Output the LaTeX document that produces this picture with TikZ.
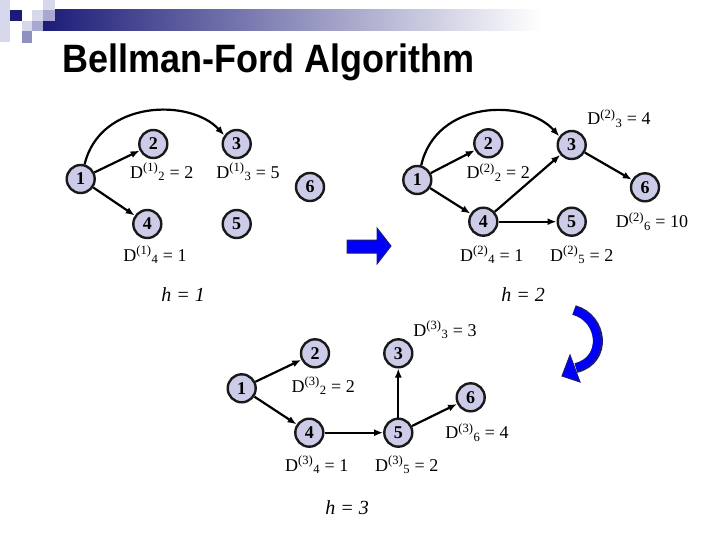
\documentclass[tikz,border=0pt]{standalone}
\usepackage{fontspec}
\setmainfont{Liberation Serif}
\newfontfamily\titlefont{Liberation Sans}
\usetikzlibrary{arrows.meta}
\definecolor{nodefill}{RGB}{204,204,232}
\definecolor{navy}{RGB}{28,28,120}
\definecolor{arrowblue}{RGB}{0,0,250}
\definecolor{sqlight}{RGB}{216,216,236}
\definecolor{sqmid}{RGB}{168,168,208}
\definecolor{sqdark}{RGB}{144,144,192}
\newcommand{\Dl}[3]{D\textsuperscript{(#1)}\textsubscript{#2} = #3}
\begin{document}
\begin{tikzpicture}[x=1pt,y=-1pt,
  vtx/.style={circle, draw=black!90, line width=2.4pt, fill=nodefill, minimum size=28pt, inner sep=0pt, font=\fontsize{18}{18}\selectfont\bfseries},
  lbl/.style={font=\fontsize{18}{18}\selectfont, inner sep=0pt},
  edge/.style={line width=2.2pt, -{Latex[length=9pt,width=7pt]}},
  hlbl/.style={font=\fontsize{20}{20}\selectfont\itshape, inner sep=0pt}]
\useasboundingbox (0,0) rectangle (720,540);
% decoration
\shade[left color=navy, right color=white] (43,10) rectangle (540,31);
\fill[sqlight] (0,0) rectangle (10,42);
\fill[navy] (10,10) rectangle (22,21);
\fill[sqlight] (43,0) rectangle (55,10);
\fill[sqlight] (32,10) rectangle (43,21);
\fill[sqmid] (43,10) rectangle (55,21);
\fill[sqlight] (22,21) rectangle (32,31);
\fill[sqmid] (32,21) rectangle (43,31);
\fill[sqdark] (22,31) rectangle (32,43);
% title
\node[anchor=base west, inner sep=0pt, font=\titlefont\bfseries\fontsize{36}{36}\selectfont] (title) at (62,73) {\scalebox{1}[1.1]{Bellman-Ford Algorithm}};

% graph h=1
\node[vtx] (a1) at (80.7,179) {1};
\node[vtx] (a2) at (153.3,144) {2};
\node[vtx] (a3) at (236.7,144) {3};
\node[vtx] (a4) at (147.3,224) {4};
\node[vtx] (a5) at (236.7,224) {5};
\node[vtx] (a6) at (310,187) {6};
\node[lbl] (la2) at (161.7,172) {\Dl{1}{2}{2}};
\node[lbl] (la3) at (248,172) {\Dl{1}{3}{5}};
\node[lbl] (la4) at (155,255) {\Dl{1}{4}{1}};
\draw[edge] (a1) -- (a2);
\draw[edge] (a1) -- (a4);
\draw[edge] (a1.75) .. controls (100,100) and (190,98) .. (a3.145);
\node[hlbl] (h1) at (183,295) {h = 1};

% blue right arrow
\filldraw[fill=arrowblue, draw=navy, line width=1pt] (347,240) -- (377,240) -- (377,228) -- (391,246) -- (377,264) -- (377,253) -- (347,253) -- cycle;

% graph h=2
\node[vtx] (b1) at (417.3,180) {1};
\node[vtx] (b2) at (488.3,143.3) {2};
\node[vtx] (b3) at (571.7,145) {3};
\node[vtx] (b4) at (483.3,221.7) {4};
\node[vtx] (b5) at (571.7,221.7) {5};
\node[vtx] (b6) at (645,187.3) {6};
\node[lbl] (lb3) at (619,118.3) {\Dl{2}{3}{4}};
\node[lbl] (lb2) at (498.3,172.7) {\Dl{2}{2}{2}};
\node[lbl] (lb4) at (491.7,255) {\Dl{2}{4}{1}};
\node[lbl] (lb5) at (581.7,255) {\Dl{2}{5}{2}};
\node[lbl] (lb6) at (652,221.7) {\Dl{2}{6}{10}};
\draw[edge] (b1) -- (b2);
\draw[edge] (b1) -- (b4);
\draw[edge] (b1.75) .. controls (436,100) and (525,98) .. (b3.145);
\draw[edge] (b4) -- (b3);
\draw[edge] (b4) -- (b5);
\draw[edge] (b3) -- (b6);
\node[hlbl] (h2) at (523,295) {h = 2};

% curved blue arrow
\draw[line width=10pt, navy] (574,310) .. controls (603,318) and (608,360) .. (576,368);
\draw[line width=7.5pt, arrowblue] (574.5,310.5) .. controls (602,318) and (606,360) .. (576,367.5);
\filldraw[fill=arrowblue, draw=navy, line width=1pt] (570,355) -- (562,376) -- (580,382) -- cycle;

% graph h=3
\node[vtx] (c1) at (241.7,388.3) {1};
\node[vtx] (c2) at (315,353.3) {2};
\node[vtx] (c3) at (398.3,353.3) {3};
\node[vtx] (c4) at (309.3,432.7) {4};
\node[vtx] (c5) at (398.3,432.7) {5};
\node[vtx] (c6) at (470.7,397.3) {6};
\node[lbl] (lc3) at (445,330) {\Dl{3}{3}{3}};
\node[lbl] (lc2) at (323.3,386) {\Dl{3}{2}{2}};
\node[lbl] (lc6) at (477,432.7) {\Dl{3}{6}{4}};
\node[lbl] (lc4) at (316.7,465) {\Dl{3}{4}{1}};
\node[lbl] (lc5) at (406.7,465) {\Dl{3}{5}{2}};
\draw[edge] (c1) -- (c2);
\draw[edge] (c1) -- (c4);
\draw[edge] (c4) -- (c5);
\draw[edge] (c5) -- (c3);
\draw[edge] (c5) -- (c6);
\node[hlbl] (h3) at (347,508) {h = 3};
\end{tikzpicture}
\end{document}
